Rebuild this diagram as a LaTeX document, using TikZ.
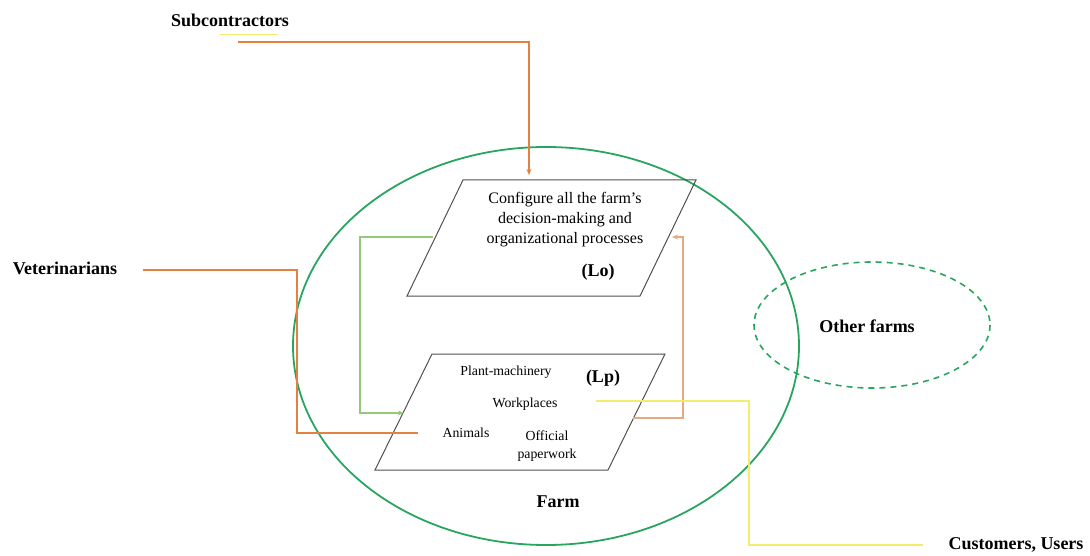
\documentclass[tikz,border=0pt]{standalone}
\usepackage{fontspec}
\setmainfont{Liberation Serif}
\usetikzlibrary{arrows.meta}
\definecolor{farmgreen}{RGB}{40,165,95}
\definecolor{conorange}{RGB}{228,128,64}
\definecolor{lightgreen}{RGB}{150,200,120}
\definecolor{tan}{RGB}{230,170,130}
\definecolor{paleyellow}{RGB}{245,235,110}
\definecolor{boxgray}{RGB}{80,80,80}
\tikzset{
  lbl/.style={font=\bfseries\fontsize{18}{20}\selectfont, inner sep=0pt},
  itm/.style={font=\fontsize{13.8}{16}\selectfont, inner sep=0pt, align=center},
  para/.style={draw=boxgray, line width=1pt},
  conn/.style={line width=1.3pt},
  tip/.style={-{Stealth[length=6pt,width=5pt]}}
}
\begin{document}
\begin{tikzpicture}[x=1pt,y=-1pt]
\useasboundingbox (0,0) rectangle (1090,556);
% ellipses
\draw[farmgreen, line width=1.8pt] (546,346) ellipse [x radius=253, y radius=199];
\draw[farmgreen, line width=1.6pt, dash pattern=on 6pt off 5pt] (872,325) ellipse [x radius=118, y radius=63];
% parallelograms
\coordinate (lotl) at (463,180); \coordinate (lotr) at (696,180);
\coordinate (lobr) at (640,296); \coordinate (lobl) at (407,296);
\draw[para] (lotl) -- (lotr) -- (lobr) -- (lobl) -- cycle;
\coordinate (lptl) at (432,354); \coordinate (lptr) at (665,354);
\coordinate (lpbr) at (608,470); \coordinate (lpbl) at (375,470);
\draw[para] (lptl) -- (lptr) -- (lpbr) -- (lpbl) -- cycle;
% texts
\node[itm, font=\fontsize{16}{20}\selectfont] (lotext) at (565,220) {Configure all the farm’s\\decision-making and\\organizational processes};
\node[lbl] (lo) at (598,272) {(Lo)};
\node[itm] (plant) at (506,372) {Plant-machinery};
\node[lbl] (lp) at (603,378) {(Lp)};
\node[itm] (work) at (525,404) {Workplaces};
\node[itm] (animals) at (466,433) {Animals};
\node[itm, font=\fontsize{13.8}{18}\selectfont] (paper) at (547,446) {Official\\paperwork};
\node[lbl] (farm) at (558,502) {Farm};
\node[lbl] (other) at (867,326) {Other farms};
\node[lbl] (sub) at (230,20) {Subcontractors};
\node[lbl] (vet) at (65,268) {Veterinarians};
\node[lbl] (cust) at (1016,545) {Customers, Users};
% connector coordinates
\coordinate (subs) at (238,42);
\coordinate (lotop) at (529,175);
\coordinate (vets) at (143,270);
\coordinate (vete) at (418,433);
\coordinate (loleft) at (433,237);
\coordinate (lpleft) at (404,413);
\coordinate (lpright) at (633,418);
\coordinate (loright) at (672,237);
\coordinate (lpmid) at (596,401);
\coordinate (custe) at (923,545);
% connectors
\draw[paleyellow, line width=1pt] (220,35) -- (278,35);
\draw[conn, conorange, tip] (subs) -| (lotop);
\draw[conn, conorange] (vets) -- (297,270) |- (vete);
\draw[conn, lightgreen, tip] (loleft) -- (360,237) |- (lpleft);
\draw[conn, tan, tip] (lpright) -- (683,418) |- (loright);
\draw[conn, paleyellow] (lpmid) -- (749,401) |- (custe);
\end{tikzpicture}
\end{document}
